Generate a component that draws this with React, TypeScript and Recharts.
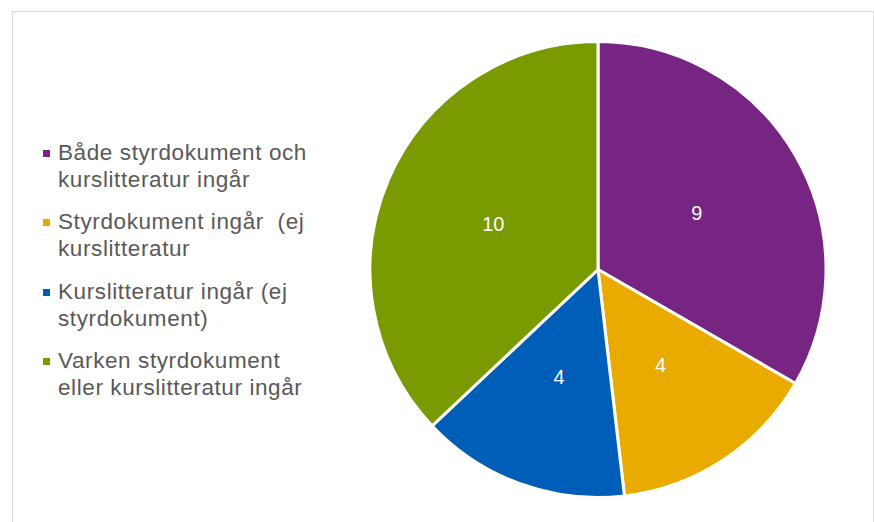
import { PieChart, Pie, Cell, Legend } from "recharts";

const categories = [
  "Både styrdokument och kurslitteratur ingår",
  "Styrdokument ingår  (ej kurslitteratur",
  "Kurslitteratur ingår (ej styrdokument)",
  "Varken styrdokument eller kurslitteratur ingår",
];
const counts = [9, 4, 4, 10];
const colors = ["#772583", "#EAAB00", "#005EB8", "#7A9A01"];

const data = categories.map((name, i) => ({ name, value: counts[i] }));

const RAD = Math.PI / 180;
const FONT = '"Liberation Sans", Arial, sans-serif';

// eslint-disable-next-line @typescript-eslint/no-explicit-any
function renderLabel(props: any) {
  const { cx, cy, midAngle, outerRadius, value } = props;
  const r = outerRadius * 0.5;
  const x = cx + r * Math.cos(-midAngle * RAD);
  const y = cy + r * Math.sin(-midAngle * RAD);
  return (
    <text
      x={x}
      y={y}
      fill="#ffffff"
      fontSize={20}
      fontFamily={FONT}
      textAnchor="middle"
      dominantBaseline="central"
    >
      {value}
    </text>
  );
}

function LegendContent() {
  return (
    <div
      style={{
        fontFamily: FONT,
        fontSize: 22.5,
        letterSpacing: 0.6,
        color: "#595959",
        width: 280,
      }}
    >
      {categories.map((name, i) => (
        <div key={name} style={{ display: "flex", alignItems: "flex-start", marginBottom: 16 }}>
          <span
            style={{
              width: 7,
              height: 7,
              background: colors[i],
              marginTop: 10,
              marginRight: 8,
              flex: "none",
            }}
          />
          <span style={{ lineHeight: "26.7px", whiteSpace: "pre-wrap", maxWidth: 262 }}>{name}</span>
        </div>
      ))}
    </div>
  );
}

export default function App() {
  return (
    <div
      style={{
        position: "absolute",
        left: 0,
        top: 0,
        width: 874,
        height: 522,
        background: "#ffffff",
        overflow: "hidden",
      }}
    >
      <div
        style={{
          position: "absolute",
          left: 12,
          top: 11,
          width: 860,
          height: 530,
          border: "1px solid #d9d9d9",
        }}
      />
      <PieChart
        width={874}
        height={522}
        margin={{ top: 0, right: 0, bottom: 0, left: 0 }}
        style={{ position: "absolute", left: 0, top: 0 }}
      >
        <Pie
          data={data}
          dataKey="value"
          nameKey="name"
          cx={598}
          cy={269.5}
          outerRadius={228}
          startAngle={90}
          endAngle={-270}
          stroke="#ffffff"
          strokeWidth={3}
          label={renderLabel}
          labelLine={false}
          isAnimationActive={false}
        >
          {data.map((d, i) => (
            <Cell key={d.name} fill={colors[i]} />
          ))}
        </Pie>
        <Legend
          layout="vertical"
          content={<LegendContent />}
          wrapperStyle={{ left: 43, top: 140, width: 290 }}
        />
      </PieChart>
    </div>
  );
}
